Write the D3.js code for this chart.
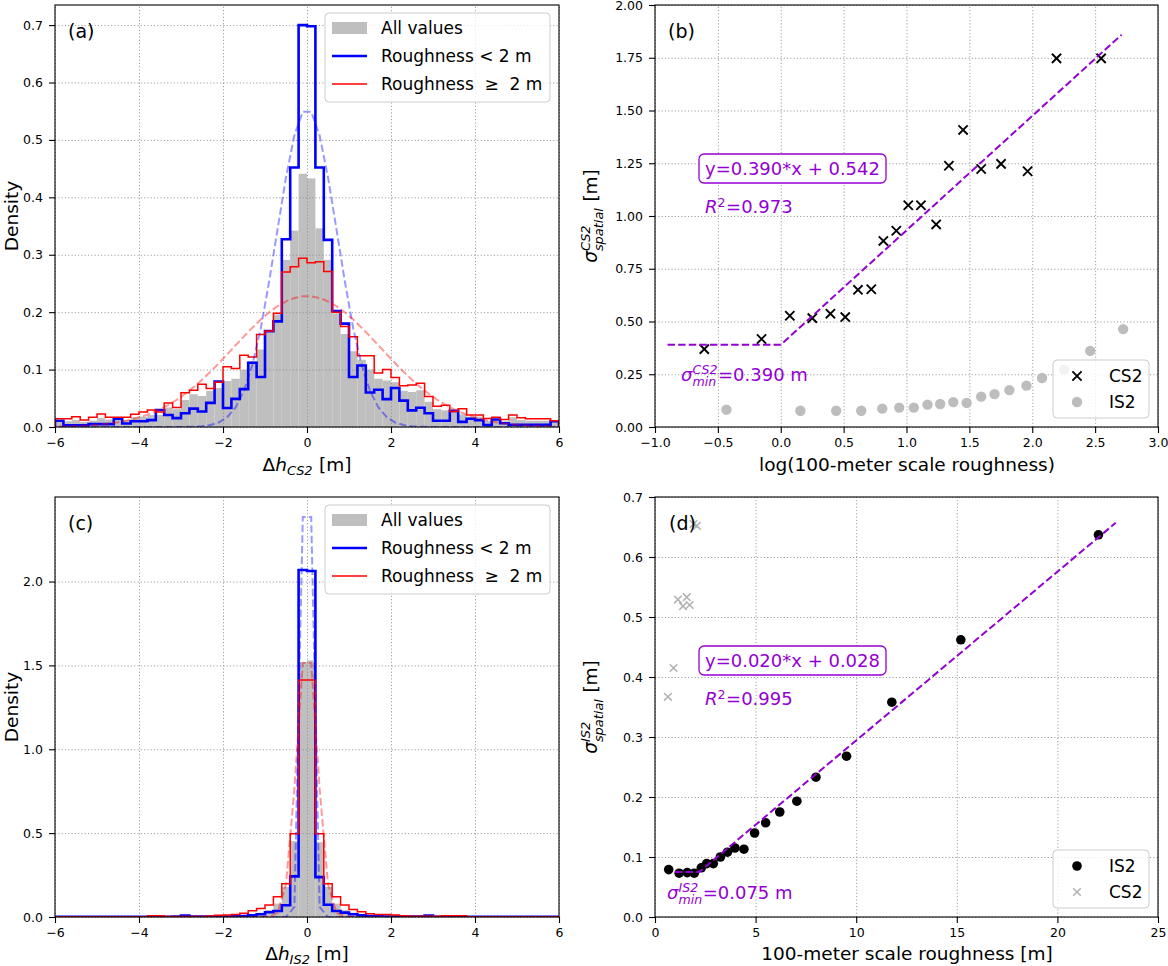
<!DOCTYPE html>
<html><head><meta charset="utf-8">
<script src="https://cdn.jsdelivr.net/npm/d3@7"></script>
<style>
body{margin:0;background:#fff;}
svg{font-family:"DejaVu Sans",sans-serif;}
text{white-space:pre;}
</style></head><body>
<svg id="chart" width="1168" height="966"></svg>
<script>
// ---------------- DATA ----------------
// histogram bins: 60 bins of 0.2 m from -6 to 6
const binStart = -6, binWidth = 0.2;

// Panel (a): CS2 height differences (density per bin)
const aAll = [0.010,0.010,0.012,0.009,0.011,0.0155,0.013,0.013,0.012,0.017,
  0.018,0.021,0.021,0.034,0.031,0.047,0.057,0.054,0.063,0.068,
  0.080,0.084,0.100,0.115,0.135,0.165,0.196,0.291,0.342,0.441,
  0.433,0.346,0.291,0.198,0.162,0.132,0.117,0.100,0.084,0.081,
  0.078,0.063,0.061,0.064,0.044,0.031,0.029,0.028,0.022,0.018,
  0.018,0.011,0.012,0.010,0.017,0.012,0.011,0.011,0.011,0.009];
const aLow = [0.011,0.003,0.003,0.003,0.005,0.005,0.005,0.0145,0.006,0.010,
  0.010,0.012,0.0295,0.021,0.0155,0.024,0.032,0.027,0.042,0.079,
  0.033,0.049,0.066,0.112,0.087,0.167,0.184,0.327,0.452,0.700,
  0.698,0.452,0.326,0.202,0.180,0.087,0.107,0.060,0.065,0.0485,
  0.068,0.046,0.029,0.0335,0.024,0.011,0.011,0.028,0.009,0.0145,
  0.012,0.0035,0.013,0.0065,0.004,0.004,0.004,0.004,0.004,0.010];
const aHigh = [0.0145,0.0145,0.018,0.012,0.017,0.0225,0.017,0.017,0.017,0.022,
  0.026,0.0295,0.026,0.042,0.034,0.0595,0.064,0.0745,0.067,0.078,
  0.105,0.102,0.125,0.122,0.161,0.167,0.198,0.270,0.279,0.294,
  0.286,0.288,0.271,0.200,0.175,0.157,0.124,0.124,0.094,0.100,
  0.086,0.072,0.073,0.076,0.053,0.036,0.038,0.027,0.032,0.021,
  0.021,0.015,0.017,0.013,0.021,0.016,0.0145,0.0145,0.0145,0.011];
// fitted normal curves read at bin centres
const aLowFit = [0,0,0,0,0,0,0,0,0,0,0,0,0,0,0,
  0.0002,0.0005,0.0013,0.0034,0.0079,0.017,0.0341,0.0633,0.1085,0.172,0.254,0.345,0.435,0.508,0.549,
  0.549,0.508,0.435,0.345,0.254,0.172,0.1085,0.0633,0.0341,0.017,0.0079,0.0034,0.0013,0.0005,0.0002,
  0,0,0,0,0,0,0,0,0,0,0,0,0,0,0];
const aHighFit = [0.0008,0.0011,0.0016,0.0023,0.0033,0.0045,0.0062,0.0084,0.0111,0.0147,
  0.0190,0.0244,0.0309,0.0385,0.0475,0.0578,0.0694,0.0822,0.0961,0.1110,
  0.1265,0.1423,0.1579,0.1730,0.1871,0.1997,0.2105,0.2189,0.2247,0.2276,
  0.2276,0.2247,0.2189,0.2105,0.1997,0.1871,0.1730,0.1579,0.1423,0.1265,
  0.1110,0.0961,0.0822,0.0694,0.0578,0.0475,0.0385,0.0309,0.0244,0.0190,
  0.0147,0.0111,0.0084,0.0062,0.0045,0.0033,0.0023,0.0016,0.0011,0.0008];

// Panel (c): IS2 height differences
const cAll = [0.003,0.003,0.003,0.003,0.003,0.003,0.003,0.003,0.003,0.003,
  0.003,0.004,0.004,0.003,0.003,0.004,0.003,0.003,0.004,0.005,
  0.006,0.008,0.012,0.018,0.026,0.042,0.080,0.179,0.452,1.520,
  1.530,0.446,0.179,0.080,0.042,0.026,0.018,0.012,0.008,0.006,
  0.005,0.004,0.003,0.003,0.004,0.003,0.003,0.004,0.003,0.003,
  0.003,0.003,0.003,0.003,0.003,0.003,0.003,0.003,0.003,0.003];
const cLow = [0.001,0.001,0.001,0.001,0.001,0.001,0.001,0.001,0.001,0.001,
  0.001,0.001,0.001,0.001,0.002,0.008,0.002,0.002,0.002,0.002,
  0.003,0.004,0.006,0.010,0.016,0.028,0.036,0.070,0.242,2.069,
  2.063,0.238,0.073,0.036,0.026,0.016,0.010,0.006,0.004,0.003,
  0.002,0.002,0.002,0.002,0.008,0.001,0.001,0.001,0.001,0.001,
  0.001,0.001,0.001,0.001,0.001,0.001,0.001,0.001,0.001,0.001];
const cHigh = [0.002,0.002,0.002,0.002,0.002,0.002,0.002,0.002,0.002,0.002,
  0.002,0.008,0.008,0.003,0.003,0.003,0.003,0.003,0.006,0.010,
  0.012,0.015,0.023,0.037,0.050,0.072,0.120,0.198,0.497,1.413,
  1.413,0.497,0.198,0.120,0.072,0.045,0.032,0.020,0.015,0.015,
  0.012,0.008,0.004,0.004,0.004,0.004,0.007,0.007,0.007,0.002,
  0.002,0.002,0.002,0.002,0.002,0.002,0.002,0.002,0.002,0.002];
const cLowFit = [0,0,0,0,0,0,0,0,0,0,0,0,0,0,0,0,0,0,0,0,0,0,0,0,0,0,0,
  0,0.06,2.385,2.385,0.06,0,
  0,0,0,0,0,0,0,0,0,0,0,0,0,0,0,0,0,0,0,0,0,0,0,0,0,0,0];
const cHighFit = [0,0,0,0,0,0,0,0,0,0,0,0,0,0,0,0,0,0,0,0,0,0,0,0,0,
  0.002,0.025,0.195,0.765,1.515,1.515,0.765,0.195,0.025,0.002,
  0,0,0,0,0,0,0,0,0,0,0,0,0,0,0,0,0,0,0,0,0,0,0,0,0];

// Panel (b): sigma vs log(roughness)
const bCS2x = [-0.608,-0.153,0.072,0.251,0.395,0.513,0.614,0.720,0.816,0.919,1.014,1.115,1.236,1.337,1.450,1.594,1.752,1.963,2.193,2.548];
const bCS2y = [0.369,0.417,0.527,0.516,0.537,0.521,0.650,0.653,0.882,0.930,1.051,1.051,0.960,1.238,1.408,1.223,1.247,1.212,1.747,1.747];
const bIS2x = [-0.432,0.156,0.441,0.640,0.807,0.942,1.058,1.167,1.268,1.372,1.478,1.594,1.700,1.818,1.954,2.078,2.254,2.461,2.723];
const bIS2y = [0.082,0.077,0.077,0.077,0.087,0.092,0.092,0.106,0.109,0.118,0.114,0.144,0.156,0.175,0.196,0.232,0.272,0.361,0.464];
const bFitX = [-0.9, 0.0, 2.71];
const bFitY = [0.390, 0.390, 1.859];

// Panel (d): sigma vs roughness
const dIS2x = [0.68,1.20,1.60,1.95,2.30,2.57,2.90,3.25,3.60,3.97,4.42,4.95,5.50,6.20,7.05,8.00,9.52,11.77,15.20,22.04];
const dIS2y = [0.079,0.073,0.074,0.073,0.082,0.089,0.089,0.100,0.108,0.115,0.113,0.140,0.157,0.175,0.193,0.233,0.268,0.358,0.462,0.637];
const dCS2x = [0.64,0.92,1.14,1.39,1.58,1.72,1.91,2.08];
const dCS2y = [0.367,0.415,0.529,0.518,0.533,0.520,0.655,0.652];
const dFitX = [1.0, 2.2, 22.9];
const dFitY = [0.075, 0.075, 0.657];

// ticks and texts
const histXTicks = [-6,-4,-2,0,2,4,6];
const aYTicks = [0,0.1,0.2,0.3,0.4,0.5,0.6,0.7];
const cYTicks = [0,0.5,1.0,1.5,2.0];
const bXTicks = [-1,-0.5,0,0.5,1,1.5,2,2.5,3];
const bYTicks = [0,0.25,0.5,0.75,1,1.25,1.5,1.75,2];
const dXTicks = [0,5,10,15,20,25];
const dYTicks = [0,0.1,0.2,0.3,0.4,0.5,0.6,0.7];
const histLegend = ["All values", "Roughness < 2 m", "Roughness\u00a0\u00a0\u2265\u00a0\u00a02 m"];

// ---------------- DRAWING ----------------
const svg = d3.select('#chart');
const FF = '"DejaVu Sans", sans-serif';
const PURPLE = '#9400d3';
let clipN = 0;

function rich(parent, segs, size, color) {
  const g = parent.append('g');
  let cx = 0;
  segs.forEach(s => {
    if (s.t != null) {
      const el = g.append('text').attr('x', cx).attr('y', 0).attr('font-size', size)
        .attr('fill', color).attr('font-style', s.i ? 'italic' : null).text(s.t);
      cx += el.node().getComputedTextLength();
    } else {
      const fs = size * 0.7; let w = 0;
      if (s.sup != null) {
        const el = g.append('text').attr('x', cx).attr('y', -size * (s.sub != null ? 0.40 : 0.36))
          .attr('font-size', fs).attr('fill', color).attr('font-style', s.si ? 'italic' : null).text(s.sup);
        w = Math.max(w, el.node().getComputedTextLength());
      }
      if (s.sub != null) {
        const el = g.append('text').attr('x', cx).attr('y', size * (s.sup != null ? 0.30 : 0.22))
          .attr('font-size', fs).attr('fill', color).attr('font-style', s.bi ? 'italic' : null).text(s.sub);
        w = Math.max(w, el.node().getComputedTextLength());
      }
      cx += w + size * 0.03;
    }
  });
  return {g, w: cx};
}
function placeCentered(parent, segs, size, color, cx, by, rotate) {
  const outer = parent.append('g');
  const r = rich(outer, segs, size, color);
  if (rotate) {
    outer.attr('transform', `translate(${cx},${by}) rotate(-90)`);
    r.g.attr('transform', `translate(${-r.w / 2},0)`);
  } else {
    r.g.attr('transform', `translate(${cx - r.w / 2},${by})`);
  }
}
function placeAt(parent, segs, size, color, x, y) {
  const r = rich(parent, segs, size, color);
  r.g.attr('transform', `translate(${x},${y})`);
  return r;
}

function makeAxes(p, xdom, ydom, xticks, yticks, xfmt, yfmt) {
  const x = d3.scaleLinear().domain(xdom).range([p.x0, p.x1]);
  const y = d3.scaleLinear().domain(ydom).range([p.y1, p.y0]);
  const id = 'clip' + (clipN++);
  svg.append('clipPath').attr('id', id).append('rect')
    .attr('x', p.x0).attr('y', p.y0).attr('width', p.x1 - p.x0).attr('height', p.y1 - p.y0);
  const g = svg.append('g');
  const L = {
    under: g.append('g').attr('clip-path', `url(#${id})`),
    grid: g.append('g'),
    data: g.append('g').attr('clip-path', `url(#${id})`),
    frame: g.append('g'),
    over: g.append('g')
  };
  // grid lines through d3 axes
  const gx = L.grid.append('g').attr('transform', `translate(0,${p.y1})`)
    .call(d3.axisBottom(x).tickValues(xticks).tickSize(-(p.y1 - p.y0)).tickFormat('').tickSizeOuter(0));
  const gy = L.grid.append('g').attr('transform', `translate(${p.x0},0)`)
    .call(d3.axisLeft(y).tickValues(yticks).tickSize(-(p.x1 - p.x0)).tickFormat('').tickSizeOuter(0));
  [gx, gy].forEach(a => {
    a.select('.domain').remove();
    a.selectAll('line').attr('stroke', '#8c8c8c').attr('stroke-width', 0.9).attr('stroke-dasharray', '1.1,2.2');
  });
  // frame
  L.frame.append('rect').attr('x', p.x0).attr('y', p.y0).attr('width', p.x1 - p.x0).attr('height', p.y1 - p.y0)
    .attr('fill', 'none').attr('stroke', '#000').attr('stroke-width', 1.1);
  const ax = L.frame.append('g').attr('transform', `translate(0,${p.y1})`)
    .call(d3.axisBottom(x).tickValues(xticks).tickFormat(xfmt).tickSize(6).tickPadding(5).tickSizeOuter(0));
  const ay = L.frame.append('g').attr('transform', `translate(${p.x0},0)`)
    .call(d3.axisLeft(y).tickValues(yticks).tickFormat(yfmt).tickSize(6).tickPadding(6).tickSizeOuter(0));
  [ax, ay].forEach(a => {
    a.select('.domain').remove();
    a.attr('font-family', FF).attr('font-size', 12.5);
    a.selectAll('line').attr('stroke', '#000').attr('stroke-width', 1.1);
    a.selectAll('text').attr('fill', '#000');
  });
  return {x, y, L, p};
}

function histPanel(A, all, low, high, lowFit, highFit) {
  const {x, y, L} = A;
  const edge = i => binStart + i * binWidth;
  // gray bars
  L.under.selectAll('rect.bar').data(all).join('rect').attr('class', 'bar')
    .attr('x', (d, i) => x(edge(i))).attr('width', (d, i) => x(edge(i + 1)) - x(edge(i)))
    .attr('y', d => y(d)).attr('height', d => y(0) - y(d)).attr('fill', '#bfbfbf');
  const step = vals => {
    const pts = [[edge(0), 0]];
    vals.forEach((v, i) => { pts.push([edge(i), v]); pts.push([edge(i + 1), v]); });
    pts.push([edge(vals.length), 0]);
    return d3.line().x(d => x(d[0])).y(d => y(d[1]))(pts);
  };
  L.data.append('path').attr('d', step(low)).attr('fill', 'none').attr('stroke', '#0000ff')
    .attr('stroke-width', 2.6).attr('stroke-linejoin', 'miter');
  L.data.append('path').attr('d', step(high)).attr('fill', 'none').attr('stroke', '#ff0000')
    .attr('stroke-width', 1.5);
  const fitLine = d3.line().x((d, i) => x(edge(i) + binWidth / 2)).y(d => y(d));
  L.data.append('path').attr('d', fitLine(lowFit)).attr('fill', 'none').attr('stroke', '#0000ff')
    .attr('stroke-opacity', 0.4).attr('stroke-width', 2).attr('stroke-dasharray', '7.4,3.2');
  L.data.append('path').attr('d', fitLine(highFit)).attr('fill', 'none').attr('stroke', '#ff0000')
    .attr('stroke-opacity', 0.4).attr('stroke-width', 2).attr('stroke-dasharray', '7.4,3.2');
}

function histLegendDraw(A) {
  const p = A.p, g = A.L.over;
  const lx = p.x0 + 270, ly = p.y0 + 8;
  g.append('rect').attr('x', lx).attr('y', ly).attr('width', 225).attr('height', 89).attr('rx', 4)
    .attr('fill', '#fff').attr('fill-opacity', 0.8).attr('stroke', '#cccccc').attr('stroke-width', 1);
  const rows = [ly + 15, ly + 43, ly + 71];
  g.append('rect').attr('x', lx + 7).attr('y', rows[0] - 6).attr('width', 35).attr('height', 12).attr('fill', '#bfbfbf');
  g.append('line').attr('x1', lx + 7).attr('x2', lx + 42).attr('y1', rows[1]).attr('y2', rows[1])
    .attr('stroke', '#0000ff').attr('stroke-width', 2.6);
  g.append('line').attr('x1', lx + 7).attr('x2', lx + 42).attr('y1', rows[2]).attr('y2', rows[2])
    .attr('stroke', '#ff0000').attr('stroke-width', 1.5);
  histLegend.forEach((t, i) => g.append('text').attr('x', lx + 56).attr('y', rows[i] + 6)
    .attr('font-size', 17).attr('fill', '#000').text(t));
}

function xMarker(g, cx, cy, s, color, w) {
  g.append('path').attr('d', `M${cx - s},${cy - s}L${cx + s},${cy + s}M${cx - s},${cy + s}L${cx + s},${cy - s}`)
    .attr('stroke', color).attr('stroke-width', w).attr('fill', 'none');
}

// ---- Panel (a)
const PA = {x0: 55, x1: 559, y0: 5, y1: 427};
const A = makeAxes(PA, [-6, 6], [0, 0.735], histXTicks, aYTicks, d3.format('d'), d3.format('.1f'));
histPanel(A, aAll, aLow, aHigh, aLowFit, aHighFit);
histLegendDraw(A);
A.L.over.append('text').attr('x', 68).attr('y', 38).attr('font-size', 19).text('(a)');
placeCentered(svg, [{t: 'Density'}], 18.5, '#000', 18, 216, true);
placeCentered(svg, [{t: '\u0394'}, {t: 'h', i: 1}, {sub: 'CS2', bi: 1}, {t: '\u00a0[m]'}], 18.5, '#000', 307, 471, false);

// ---- Panel (c)
const PC = {x0: 55, x1: 559, y0: 497, y1: 917};
const C = makeAxes(PC, [-6, 6], [0, 2.504], histXTicks, cYTicks, d3.format('d'), d3.format('.1f'));
histPanel(C, cAll, cLow, cHigh, cLowFit, cHighFit);
histLegendDraw(C);
C.L.over.append('text').attr('x', 68).attr('y', 530).attr('font-size', 19).text('(c)');
placeCentered(svg, [{t: 'Density'}], 18.5, '#000', 18, 707, true);
placeCentered(svg, [{t: '\u0394'}, {t: 'h', i: 1}, {sub: 'IS2', bi: 1}, {t: '\u00a0[m]'}], 18.5, '#000', 307, 960, false);

// ---- scatter panel helper
function fitAndText(S, fx, fy, eq, r2, sigLabel, sigText, sigPos) {
  const {x, y, L, p} = S;
  const pts = fx.map((v, i) => [v, fy[i]]);
  L.data.append('path').attr('d', d3.line().x(d => x(d[0])).y(d => y(d[1]))(pts))
    .attr('fill', 'none').attr('stroke', PURPLE).attr('stroke-width', 2).attr('stroke-dasharray', '7.4,3.2');
  // equation box
  const bx = p.x0 + 44, by = p.y0 + 149;
  L.over.append('rect').attr('x', bx).attr('y', by).attr('width', 187).attr('height', 29).attr('rx', 5)
    .attr('fill', '#fff').attr('stroke', PURPLE).attr('stroke-width', 1.3);
  L.over.append('text').attr('x', bx + 6).attr('y', by + 21).attr('font-size', 18).attr('fill', PURPLE).text(eq);
  placeAt(L.over, [{t: 'R', i: 1}, {sup: '2'}, {t: '=' + r2}], 18, PURPLE, p.x0 + 50, p.y0 + 208);
  placeAt(L.over, [{t: '\u03c3', i: 1}, {sup: sigLabel, sub: 'min', si: 1, bi: 1}, {t: '=' + sigText}], 18, PURPLE, sigPos[0], sigPos[1]);
}
function scatterLegend(S, first, second) {
  const {L, p} = S;
  const lx = p.x1 - 105, ly = p.y1 - 67;
  L.over.append('rect').attr('x', lx).attr('y', ly).attr('width', 96).attr('height', 58).attr('rx', 4)
    .attr('fill', '#fff').attr('fill-opacity', 0.8).attr('stroke', '#cccccc').attr('stroke-width', 1);
  [first, second].forEach((e, i) => {
    const cy = ly + 16 + i * 26, cx = lx + 24;
    if (e.kind === 'x') xMarker(L.over, cx, cy, e.s, e.color, e.w);
    else L.over.append('circle').attr('cx', cx).attr('cy', cy).attr('r', e.r).attr('fill', e.color);
    L.over.append('text').attr('x', lx + 56).attr('y', cy + 6).attr('font-size', 17).attr('fill', '#000').text(e.label);
  });
}

// ---- Panel (b)
const PB = {x0: 655, x1: 1158, y0: 5, y1: 427};
const B = makeAxes(PB, [-1, 3], [0, 2], bXTicks, bYTicks, d3.format('.1f'), d3.format('.2f'));
B.L.data.selectAll('circle.is2').data(bIS2x).join('circle').attr('class', 'is2')
  .attr('cx', d => B.x(d)).attr('cy', (d, i) => B.y(bIS2y[i])).attr('r', 5.2).attr('fill', '#bdbdbd');
bCS2x.forEach((v, i) => xMarker(B.L.data, B.x(v), B.y(bCS2y[i]), 4.6, '#000', 1.9));
fitAndText(B, bFitX, bFitY, 'y=0.390*x + 0.542', '0.973', 'CS2', '0.390 m', [681, 381]);
scatterLegend(B, {kind: 'x', s: 4.6, w: 1.9, color: '#000', label: 'CS2'}, {kind: 'o', r: 5.2, color: '#bdbdbd', label: 'IS2'});
B.L.over.append('text').attr('x', 668).attr('y', 38).attr('font-size', 19).text('(b)');
placeCentered(svg, [{t: '\u03c3', i: 1}, {sup: 'CS2', sub: 'spatial', si: 1, bi: 1}, {t: '\u00a0[m]'}], 18.5, '#000', 597, 216, true);
placeCentered(svg, [{t: 'log(100-meter scale roughness)'}], 18.5, '#000', 907, 471, false);

// ---- Panel (d)
const PD = {x0: 655, x1: 1158, y0: 497, y1: 917};
const D = makeAxes(PD, [0, 25], [0, 0.7], dXTicks, dYTicks, d3.format('d'), d3.format('.1f'));
dCS2x.forEach((v, i) => xMarker(D.L.data, D.x(v), D.y(dCS2y[i]), 3.8, '#b3b3b3', 1.6));
D.L.data.selectAll('circle.is2').data(dIS2x).join('circle').attr('class', 'is2')
  .attr('cx', d => D.x(d)).attr('cy', (d, i) => D.y(dIS2y[i])).attr('r', 4.8).attr('fill', '#000');
fitAndText(D, dFitX, dFitY, 'y=0.020*x + 0.028', '0.995', 'IS2', '0.075 m', [667, 899]);
scatterLegend(D, {kind: 'o', r: 4.8, color: '#000', label: 'IS2'}, {kind: 'x', s: 3.8, w: 1.6, color: '#b3b3b3', label: 'CS2'});
D.L.over.append('text').attr('x', 669).attr('y', 530).attr('font-size', 19).text('(d)');
placeCentered(svg, [{t: '\u03c3', i: 1}, {sup: 'IS2', sub: 'spatial', si: 1, bi: 1}, {t: '\u00a0[m]'}], 18.5, '#000', 597, 707, true);
placeCentered(svg, [{t: '100-meter scale roughness [m]'}], 18.5, '#000', 907, 960, false);
</script></body></html>
